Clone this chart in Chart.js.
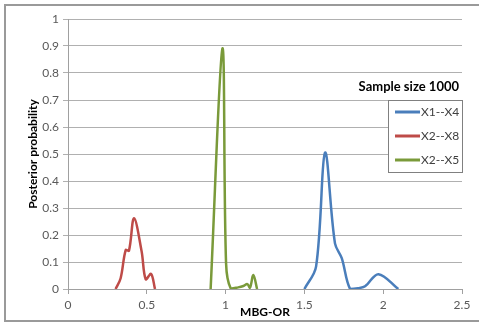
<!DOCTYPE html>
<html>
<head>
<meta charset="utf-8">
<script src="https://cdn.jsdelivr.net/npm/chart.js@4"></script>
<style>
  html, body { margin: 0; padding: 0; background: #fff; }
  #wrap { width: 479px; height: 322px; position: relative; }
</style>
</head>
<body>
<div id="wrap"><canvas id="grafico" width="479" height="322"></canvas></div>
<script>
// series: [MBG-OR, posterior probability]
const seriesNames = ['X1--X4', 'X2--X8', 'X2--X5'];
const seriesColors = ['#4a7ebb', '#be4b48', '#7a9a3a'];
const x1x4 = [[1.5, 0], [1.574, 0.083], [1.631, 0.505], [1.694, 0.169], [1.737, 0.114], [1.79, 0], [1.84, 0.003], [1.885, 0.01], [1.97, 0.055], [2.096, 0]];
const x2x8 = [[0.302, 0], [0.334, 0.04], [0.366, 0.144], [0.387, 0.142], [0.419, 0.262], [0.467, 0.14], [0.493, 0.036], [0.527, 0.056], [0.552, 0]];
const x2x5 = [[0.905, 0], [0.98, 0.891], [1.003, 0.095], [1.032, 0.003], [1.08, 0.006], [1.113, 0.011], [1.138, 0.018], [1.155, 0.005], [1.176, 0.052], [1.2, 0]];
const xTicks = [0, 0.5, 1, 1.5, 2, 2.5];
const yTicks = [0, 0.1, 0.2, 0.3, 0.4, 0.5, 0.6, 0.7, 0.8, 0.9, 1];
const chartTitle = 'Sample size 1000';
const xTitle = 'MBG-OR';
const yTitle = 'Posterior probability';

const allSeries = [x1x4, x2x8, x2x5];
const fonte = 'Lato, "Open Sans", sans-serif';
const rotulo = v => String(+Number(v).toFixed(1));

// moldura, legenda e títulos dos eixos
const extras = {
    id: 'extras',
    afterDraw(chart) {
        const ctx = chart.ctx;
        const area = chart.chartArea;
        ctx.save();
        ctx.strokeStyle = '#9a9a9a';
        ctx.lineWidth = 2;
        ctx.strokeRect(5, 5, 480, 316);

        ctx.fillStyle = '#000';
        ctx.font = 'bold 12px ' + fonte;
        ctx.textAlign = 'center';
        ctx.textBaseline = 'middle';
        ctx.fillText(xTitle, (area.left + area.right) / 2, 312);
        ctx.save();
        ctx.translate(33, (area.top + area.bottom) / 2);
        ctx.rotate(-Math.PI / 2);
        ctx.fillText(yTitle, 0, 0);
        ctx.restore();

        ctx.font = 'bold 13px ' + fonte;
        ctx.textAlign = 'right';
        ctx.fillText(chartTitle, 459, 87);

        ctx.fillStyle = '#fff';
        ctx.fillRect(388, 100, 74, 72);
        ctx.strokeStyle = '#808080';
        ctx.lineWidth = 1;
        ctx.strokeRect(388.5, 100.5, 74, 72);
        ctx.font = '12px ' + fonte;
        ctx.textAlign = 'left';
        chart.data.datasets.forEach((ds, i) => {
            const y = 112 + i * 24;
            ctx.strokeStyle = ds.borderColor;
            ctx.lineWidth = 3;
            ctx.beginPath();
            ctx.moveTo(395, y);
            ctx.lineTo(420, y);
            ctx.stroke();
            ctx.fillStyle = '#404040';
            ctx.fillText(ds.label, 421, y);
        });
        ctx.restore();
    }
};

new Chart(document.getElementById('grafico'), {
    type: 'scatter',
    data: {
        datasets: allSeries.map((s, i) => ({
            label: seriesNames[i],
            data: s.map(p => ({ x: p[0], y: p[1] })),
            showLine: true,
            borderColor: seriesColors[i],
            backgroundColor: seriesColors[i],
            borderWidth: 2.5,
            pointRadius: 0,
            tension: 0.35
        }))
    },
    options: {
        responsive: false,
        animation: false,
        layout: { padding: { left: 0, right: 17, top: 19, bottom: 0 } },
        plugins: { legend: { display: false }, tooltip: { enabled: false } },
        scales: {
            x: {
                type: 'linear', min: 0, max: 2.5,
                afterFit: s => { s.height = 33; },
                afterBuildTicks: s => { s.ticks = xTicks.map(v => ({ value: v })); },
                grid: { drawOnChartArea: false, color: '#a0a0a0', tickLength: 5 },
                border: { color: '#a0a0a0' },
                ticks: { color: '#595959', font: { family: fonte, size: 12 }, padding: 4, callback: rotulo }
            },
            y: {
                type: 'linear', min: 0, max: 1,
                afterFit: s => { s.width = 68; },
                afterBuildTicks: s => { s.ticks = yTicks.map(v => ({ value: v })); },
                grid: { color: '#b0b0b0', tickLength: 5 },
                border: { color: '#a0a0a0' },
                ticks: { color: '#595959', font: { family: fonte, size: 12 }, padding: 4, callback: rotulo }
            }
        }
    },
    plugins: [extras]
});
</script>
</body>
</html>
